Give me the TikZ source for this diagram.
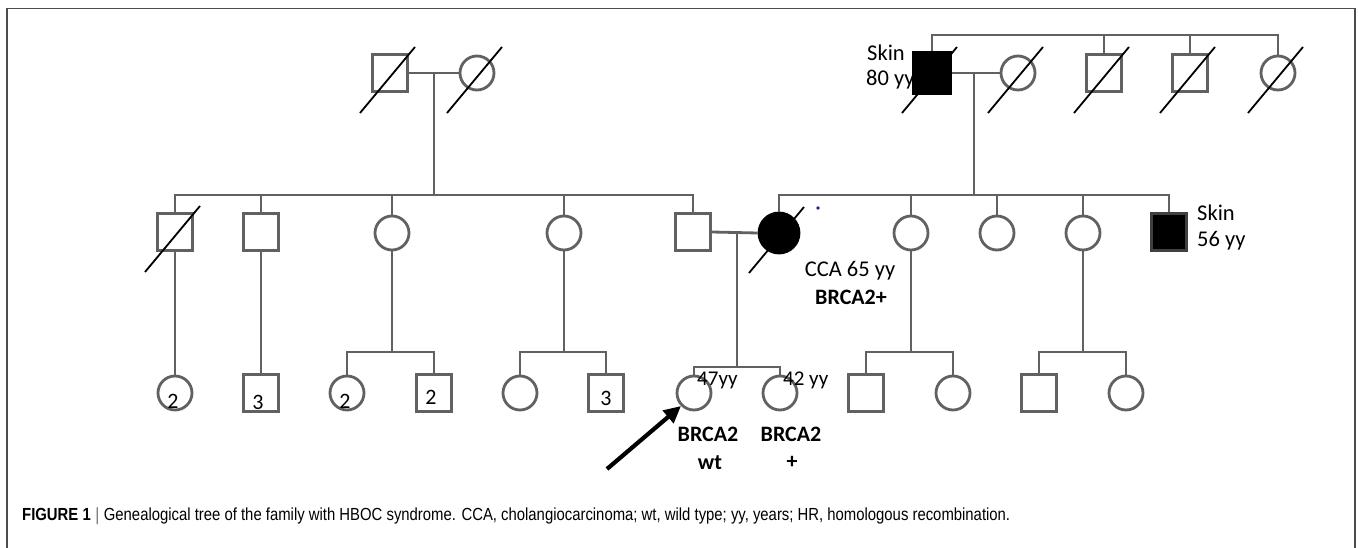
\documentclass[tikz,border=0pt]{standalone}
\usepackage{fontspec}
\setmainfont{Carlito}
\newfontfamily\capfont[FakeStretch=0.85]{Liberation Sans}
\usetikzlibrary{arrows.meta}
\definecolor{lg}{gray}{0.38}
\definecolor{dotblue}{rgb}{0.1,0.15,0.55}
\begin{document}
\begin{tikzpicture}[x=1pt,y=-1pt,
  sq/.style={draw=lg,line width=2.8pt,rectangle,minimum width=35pt,minimum height=37pt,inner sep=0pt,fill=white},
  ci/.style={draw=lg,line width=2.8pt,circle,minimum size=34pt,inner sep=0pt,fill=white},
  aff/.style={fill=black},
  ln/.style={draw=lg,line width=2.8pt},
  dead/.style={draw=black,line width=1.8pt},
  lbl/.style={font=\fontsize{22.5}{26}\selectfont,inner sep=0pt},
  blbl/.style={font=\fontsize{22}{26}\selectfont\bfseries,inner sep=0pt},
  num/.style={font=\fontsize{22}{24}\selectfont,inner sep=0pt},
  frame/.style={draw=black!70,line width=1.2pt}]
\useasboundingbox (0,0) rectangle (1358,548);
\fill[white] (0,0) rectangle (1358,548);
\draw[frame] (7,548) -- (7,8.5) -- (1355,8.5) -- (1355,548);

% labels behind symbols
\node[lbl,anchor=west] (skin1) at (867,53) {Skin};
\node[lbl,anchor=west] (age1) at (866,80) {80 yy};

% generation I
\node[sq] (gA) at (390,73) {};
\node[ci] (gB) at (477,73) {};
\node[sq,aff,draw=black,minimum width=38pt,minimum height=41pt] (gC) at (932,73) {};
\node[ci] (gD) at (1018,73) {};
\node[sq] (gE) at (1104,73) {};
\node[sq] (gF) at (1190,73) {};
\node[ci] (gG) at (1278,73) {};

\coordinate (mAB) at (434,73);
\coordinate (mCD) at (974,73);
\coordinate (sibTop) at (932,35);
\draw[ln] (gA.east) -- (gB.west);
\draw[ln] (gC.east) -- (gD.west);
\draw[ln] (gC.north) -- (gC.north |- sibTop) -- (gG.north |- sibTop) -- (gG.north);
\draw[ln] (gE.north) -- (gE.north |- sibTop);
\draw[ln] (gF.north) -- (gF.north |- sibTop);

% generation II
\node[sq] (h1) at (175,232) {};
\node[sq] (h2) at (261,232) {};
\node[ci] (h3) at (392,233) {};
\node[ci] (h4) at (564,233) {};
\node[sq] (h5) at (693,232) {};
\node[ci,aff,draw=black,minimum size=40pt] (h6) at (779,233) {};
\node[ci] (h7) at (911,233) {};
\node[ci] (h8) at (997,233) {};
\node[ci] (h9) at (1083,233) {};
\node[sq,aff,draw=black!75] (h10) at (1169,232) {};

\coordinate (sibL) at (434,195);
\coordinate (sibR) at (974,195);
\draw[ln] (mAB) -- (sibL);
\draw[ln] (mCD) -- (sibR);
\draw[ln] (h1.north) -- (h1.north |- sibL) -- (h5.north |- sibL) -- (h5.north);
\foreach \n in {h2,h3,h4} \draw[ln] (\n.north) -- (\n.north |- sibL);
\draw[ln] (h6.north) -- (h6.north |- sibR) -- (h10.north |- sibR) -- (h10.north);
\foreach \n in {h7,h8,h9} \draw[ln] (\n.north) -- (\n.north |- sibR);
\draw[ln] (h5.east) -- (h6.west);
\coordinate (m56) at (737,233);

% generation III
\node[ci] (k1) at (175,393) {};
\node[sq] (k2) at (261,393) {};
\node[ci] (k3) at (347,393) {};
\node[sq] (k4) at (434,393) {};
\node[ci] (k5) at (520,393) {};
\node[sq] (k6) at (606,393) {};
\node[ci] (k7) at (694,393) {};
\node[ci] (k8) at (780,393) {};
\node[sq] (k9) at (866,393) {};
\node[ci] (k10) at (953,393) {};
\node[sq] (k11) at (1039,393) {};
\node[ci] (k12) at (1126,393) {};

\draw[ln] (h1.south) -- (k1.north);
\draw[ln] (h2.south) -- (k2.north);
\coordinate (s3) at (392,352);
\coordinate (s4) at (564,352);
\coordinate (s56) at (737,367);
\coordinate (s7) at (911,352);
\coordinate (s9) at (1083,352);
\draw[ln] (h3.south) -- (s3);
\draw[ln] (k3.north) -- (k3.north |- s3) -- (k4.north |- s3) -- (k4.north);
\draw[ln] (h4.south) -- (s4);
\draw[ln] (k5.north) -- (k5.north |- s4) -- (k6.north |- s4) -- (k6.north);
\draw[ln] (m56) -- (s56);
\draw[ln] (k7.north) -- (k7.north |- s56) -- (k8.north |- s56) -- (k8.north);
\draw[ln] (h7.south) -- (s7);
\draw[ln] (k9.north) -- (k9.north |- s7) -- (k10.north |- s7) -- (k10.north);
\draw[ln] (h9.south) -- (s9);
\draw[ln] (k11.north) -- (k11.north |- s9) -- (k12.north |- s9) -- (k12.north);

% deceased slashes
\foreach \n in {gA,gB,gC,gD,gE,gF,gG,h1,h6}
  \draw[dead] ([shift={(-30,40)}]\n.center) -- ([shift={(25,-26)}]\n.center);

% numbers
\node[num] (n1) at (173,401) {2};
\node[num] (n2) at (258,402) {3};
\node[num] (n3) at (345,401) {2};
\node[num] (n4) at (431,397) {2};
\node[num] (n6) at (606,398) {3};

% other labels
\node[lbl,anchor=west] (skin2) at (1197,213) {Skin};
\node[lbl,anchor=west] (age2) at (1197,241) {56 yy};
\node[lbl] (cca) at (850,271) {CCA 65 yy};
\node[blbl] (brp) at (851,297) {BRCA2+};
\node[lbl,anchor=west,font=\fontsize{21}{24}\selectfont] (a47) at (697,380) {47yy};
\node[lbl,anchor=west,font=\fontsize{21}{24}\selectfont] (a42) at (783,380) {42 yy};
\node[blbl] (b1) at (708,434) {BRCA2};
\node[blbl] (w1) at (710,463) {wt};
\node[blbl] (b2) at (791,434) {BRCA2};
\node[blbl] (w2) at (792,462) {+};
\fill[dotblue] (818,208) circle (1.8);

% proband arrow
\coordinate (arrtail) at (607,469);
\draw[-{Triangle[length=17pt,width=16pt]},line width=4.2pt,black] (arrtail) -- (k7.south west);

% caption
\node[anchor=west,inner sep=0pt,font=\capfont\fontsize{17.5}{20}\selectfont] (cap) at (22,516) {\textbf{FIGURE 1} $|$ Genealogical tree of the family with HBOC syndrome. CCA, cholangiocarcinoma; wt, wild type; yy, years; HR, homologous recombination.};
\end{tikzpicture}
\end{document}
